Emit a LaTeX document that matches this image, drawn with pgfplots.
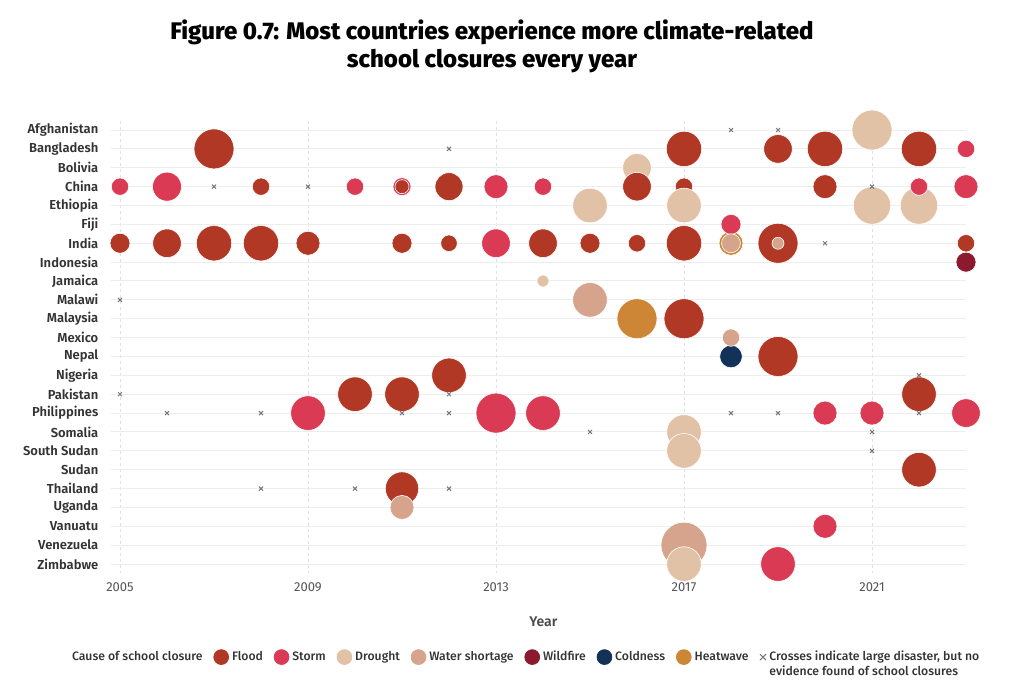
\documentclass[border=0pt]{standalone}
\usepackage{pgfplots}
\pgfplotsset{compat=1.18}
\usepackage{pgfplotstable}
\usepackage{fontspec}
\setmainfont{Fira Sans}
\newfontfamily\medfont{Fira Sans}[UprightFont={* Medium}]
\newfontfamily\semifont{Fira Sans}[UprightFont={* SemiBold}]
\newfontfamily\titlefont{Fira Sans}[UprightFont={* ExtraBold}]
\definecolor{flood}{HTML}{B23826}
\definecolor{storm}{HTML}{DA3A54}
\definecolor{drought}{HTML}{E2C2A6}
\definecolor{water}{HTML}{D6A48C}
\definecolor{wildfire}{HTML}{8C1A2E}
\definecolor{cold}{HTML}{12325A}
\definecolor{heat}{HTML}{CC8636}
\definecolor{txt}{HTML}{333333}
\definecolor{tick}{HTML}{555555}
\definecolor{xgray}{HTML}{777777}

% yr = year, row = country index (0 = Afghanistan), r = bubble radius (px of the 1024-wide chart), c = cause
\pgfplotstableread{
yr row r c
2017 22 23 W
2007 1 20 F
2021 0 20 D
2016 10 20 H
2017 10 20 F
2019 12 20 F
2013 15 20 S
2019 6 20 F
2017 3 8.7 F
2021 4 18.7 D
2022 4 18.7 D
2017 1 17.7 F
2020 1 17.7 F
2022 1 17.7 F
2007 6 17.7 F
2008 6 17.7 F
2017 6 17.7 F
2015 4 17.3 D
2017 4 17.3 D
2015 9 17.3 W
2012 13 17.3 F
2010 14 17.3 F
2011 14 17.3 F
2022 14 17.3 F
2009 15 17.3 S
2014 15 17.3 S
2017 16 17.3 D
2017 17 17.3 D
2022 18 17.3 F
2017 23 17.3 D
2019 23 17.3 S
2011 19 16.7 F
2006 3 14.5 S
2012 3 14 F
2019 1 14.3 F
2016 2 14.3 D
2016 3 14.3 F
2006 6 14.3 F
2013 6 14.3 S
2014 6 14.3 F
2023 15 14.3 S
2013 3 12 S
2020 3 12 F
2023 3 12 S
2009 6 12 F
2018 6 12 H
2020 15 12 S
2021 15 12 S
2020 21 12 S
2011 20 12 W
2018 12 11.3 C
2005 6 10 F
2011 6 10 F
2015 6 10 F
2018 5 10 S
2023 7 10 R
2018 6 9.5 W
2011 3 9 S
2005 3 8.7 S
2008 3 8.7 F
2010 3 8.7 S
2014 3 8.7 S
2022 3 8.7 S
2023 1 8.7 S
2016 6 8.7 F
2023 6 8.7 F
2018 11 8.7 W
2012 6 8.3 F
2011 3 7 F
2014 8 6 D
2019 6 6 W
}\bubbles

\pgfplotstableread{
yr row
2018 0
2019 0
2012 1
2007 3
2009 3
2021 3
2020 6
2005 9
2022 13
2005 14
2012 14
2006 15
2008 15
2011 15
2012 15
2018 15
2019 15
2022 15
2015 16
2021 16
2021 17
2008 19
2010 19
2012 19
}\crosses

\pgfplotsset{lcirc/.style={legend image code/.code={\fill[#1] (0pt,0pt) circle (3.7pt);}}}

\begin{document}
\begin{tikzpicture}
\useasboundingbox (0pt,0pt) rectangle (512pt,-350pt);
\node[align=center, font=\titlefont\fontsize{12}{14}\selectfont, text=black] at (246pt,-23pt)
  {Figure 0.7: Most countries experience more climate-related\\school closures every year};
\begin{axis}[
  at={(55.3pt,-60.3pt)}, anchor=north west,
  x=23.5pt, y=9.435pt, y dir=reverse,
  xmin=2004.8, xmax=2023, ymin=-0.5, ymax=23.5,
  clip=false,
  axis line style={draw=none},
  major tick length=0pt,
  xtick={2005,2009,2013,2017,2021},
  ytick={0,...,23},
  yticklabels={Afghanistan,Bangladesh,Bolivia,China,Ethiopia,Fiji,India,Indonesia,Jamaica,Malawi,Malaysia,Mexico,Nepal,Nigeria,Pakistan,Philippines,Somalia,South Sudan,Sudan,Thailand,Uganda,Vanuatu,Venezuela,Zimbabwe},
  /pgf/number format/assume math mode=true,
  /pgf/number format/1000 sep={},
  xticklabel style={font=\fontsize{6.5}{8}\selectfont, text=tick, yshift=-1.3pt},
  yticklabel style={font=\semifont\fontsize{6.5}{8}\selectfont, text=txt, xshift=-2.6pt},
  xmajorgrids, ymajorgrids,
  x grid style={dash pattern=on 1.5pt off 1.5pt, color=black!12, line width=0.4pt},
  y grid style={color=black!7, line width=0.5pt},
  xlabel={Year},
  xlabel style={at={(axis description cs:0.5,0)}, anchor=center, yshift=-24.3pt, xshift=2.5pt,
    font=\semifont\fontsize{7}{8}\selectfont, text=black!70},
  legend style={at={(-0.0486,-0.1846)}, anchor=west, draw=none, fill=none,
    legend columns=-1, font=\medfont\fontsize{6.1}{7.8}\selectfont, text=txt,
    inner sep=0pt, outer sep=0pt,
    /tikz/every even column/.append style={column sep=3.9pt},
    nodes={inner sep=1.5pt, text height=4.5pt, text depth=1.4pt}},
  legend cell align=left,
]
\addplot[forget plot, scatter, only marks, mark=*,
  scatter src=explicit symbolic,
  scatter/classes={
    F={mark=*, fill=flood, draw=white, line width=0.3pt},
    S={mark=*, fill=storm, draw=white, line width=0.3pt},
    D={mark=*, fill=drought, draw=white, line width=0.3pt},
    W={mark=*, fill=water, draw=white, line width=0.3pt},
    R={mark=*, fill=wildfire, draw=white, line width=0.3pt},
    C={mark=*, fill=cold, draw=white, line width=0.3pt},
    H={mark=*, fill=heat, draw=white, line width=0.3pt}},
  visualization depends on={0.5*\thisrow{r} \as \rad},
  scatter/@pre marker code/.append style={/tikz/mark size=\rad},
] table[x=yr, y=row, meta=c] {\bubbles};
\addplot[forget plot, only marks, mark=x, mark size=1.4pt, color=xgray, line width=0.5pt]
  table[x=yr, y=row] {\crosses};

\addlegendimage{empty legend}
\addlegendentry{Cause of school closure\hspace{1pt}}
\addlegendimage{lcirc=flood}
\addlegendentry{Flood}
\addlegendimage{lcirc=storm}
\addlegendentry{Storm}
\addlegendimage{lcirc=drought}
\addlegendentry{Drought}
\addlegendimage{lcirc=water}
\addlegendentry{Water shortage}
\addlegendimage{lcirc=wildfire}
\addlegendentry{Wildfire}
\addlegendimage{lcirc=cold}
\addlegendentry{Coldness}
\addlegendimage{lcirc=heat}
\addlegendentry{Heatwave}
\addlegendimage{legend image code/.code={\draw[xgray, line width=0.5pt] (-1.5pt,-1.5pt)--(1.5pt,1.5pt) (-1.5pt,1.5pt)--(1.5pt,-1.5pt);}}
\addlegendentry{\raisebox{0pt}[\height][0pt]{\begin{tabular}[t]{@{}l@{}}Crosses indicate large disaster, but no\\evidence found of school closures\end{tabular}}}
\end{axis}
\end{tikzpicture}
\end{document}
